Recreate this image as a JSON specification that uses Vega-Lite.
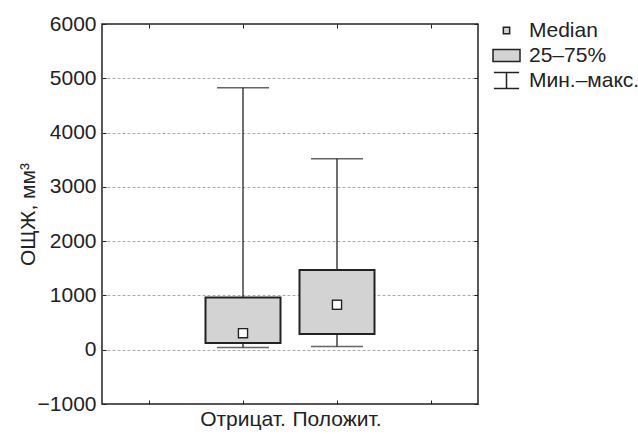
{
  "$schema": "https://vega.github.io/schema/vega-lite/v6.json",
  "width": 376,
  "height": 380,
  "autosize": {"type": "none"},
  "padding": {"left": 102, "top": 24, "right": 160, "bottom": 30},
  "background": "white",
  "config": {
    "font": "Liberation Sans",
    "view": {"stroke": "#222", "strokeWidth": 1.5},
    "axis": {"labelColor": "#222", "titleColor": "#222", "tickColor": "#222", "domain": false}
  },
  "data": {
    "values": [
      {"group": "Отрицат.", "min": 40, "q1": 125, "median": 305, "q3": 960, "max": 4825, "type": "Median"},
      {"group": "Положит.", "min": 60, "q1": 290, "median": 830, "q3": 1470, "max": 3520, "type": "Median"}
    ]
  },
  "resolve": {"axis": {"x": "independent", "y": "independent"}},
  "layer": [
    {
      "mark": {"type": "rule", "color": "#222", "strokeWidth": 1.3},
      "encoding": {
        "x": {
          "field": "group", "type": "nominal",
          "scale": {"type": "band", "domain": ["_a", "Отрицат.", "Положит.", "_b"], "paddingInner": 0, "paddingOuter": 0},
          "axis": {"orient": "bottom", "title": null, "labelExpr": "indexof(datum.value, '_') === 0 ? '' : datum.value", "labelAngle": 0, "labelFontSize": 21, "tickSize": -4, "labelPadding": 8, "grid": false}
        },
        "y": {
          "field": "min", "type": "quantitative",
          "scale": {"domain": [-1000, 6000], "nice": false, "zero": false},
          "axis": {
            "orient": "left",
            "title": "ОЩЖ, мм³", "titleFontSize": 21, "titleFontWeight": "normal", "titlePadding": -1,
            "values": [-1000, 0, 1000, 2000, 3000, 4000, 5000, 6000],
            "format": "d", "labelFontSize": 21, "tickSize": -4, "labelPadding": 10,
            "grid": true, "gridColor": "#aaa", "gridDash": [3, 2], "gridWidth": 1,
            "gridOpacity": {"condition": {"test": "datum.value === 6000 || datum.value === -1000", "value": 0}, "value": 1}
          }
        },
        "y2": {"field": "max"}
      }
    },
    {
      "mark": {"type": "tick", "color": "#222", "thickness": 1.5, "size": 52},
      "encoding": {
        "x": {"field": "group", "type": "nominal", "axis": {"orient": "top", "title": null, "labels": false, "tickSize": -4, "grid": false}},
        "y": {"field": "min", "type": "quantitative", "axis": {"orient": "right", "title": null, "labels": false, "tickSize": -4, "grid": false, "values": [-1000, 0, 1000, 2000, 3000, 4000, 5000, 6000]}}
      }
    },
    {
      "mark": {"type": "tick", "color": "#222", "thickness": 1.5, "size": 52},
      "encoding": {
        "x": {"field": "group", "type": "nominal", "axis": null},
        "y": {"field": "max", "type": "quantitative", "axis": null}
      }
    },
    {
      "mark": {"type": "bar", "fill": "#d3d3d3", "stroke": "#222", "strokeWidth": 2, "size": 75},
      "encoding": {
        "x": {"field": "group", "type": "nominal", "axis": null},
        "y": {"field": "q1", "type": "quantitative", "axis": null},
        "y2": {"field": "q3"}
      }
    },
    {
      "mark": {"type": "point", "filled": false, "fill": "#d3d3d3", "stroke": "#222", "strokeWidth": 1.5, "size": 661, "opacity": 1},
      "encoding": {
        "x": {"field": "group", "type": "nominal", "axis": null},
        "y": {"field": "median", "type": "quantitative", "axis": null},
        "shape": {
          "field": "type", "type": "nominal",
          "scale": {
            "domain": ["Median", "25–75%", "Мин.–макс."],
            "range": ["M-0.35,-0.35H0.35V0.35H-0.35Z", "M-1.5,-0.67H1.5V0.67H-1.5Z", "M-1.4,-0.9H1.4M0,-0.9V0.9M-1.4,0.9H1.4"]
          },
          "legend": {
            "title": null, "orient": "none", "legendX": 394, "legendY": -4,
            "labelFontSize": 21, "labelColor": "#222", "rowPadding": 3, "labelOffset": 12,
            "symbolSize": 324, "symbolFillColor": "#d3d3d3", "symbolStrokeWidth": 1.5
          }
        }
      }
    },
    {
      "mark": {"type": "point", "shape": "square", "filled": true, "fill": "white", "strokeWidth": 0, "size": 56, "opacity": 1},
      "encoding": {
        "x": {"field": "group", "type": "nominal", "axis": null},
        "y": {"field": "median", "type": "quantitative", "axis": null}
      }
    }
  ]
}
